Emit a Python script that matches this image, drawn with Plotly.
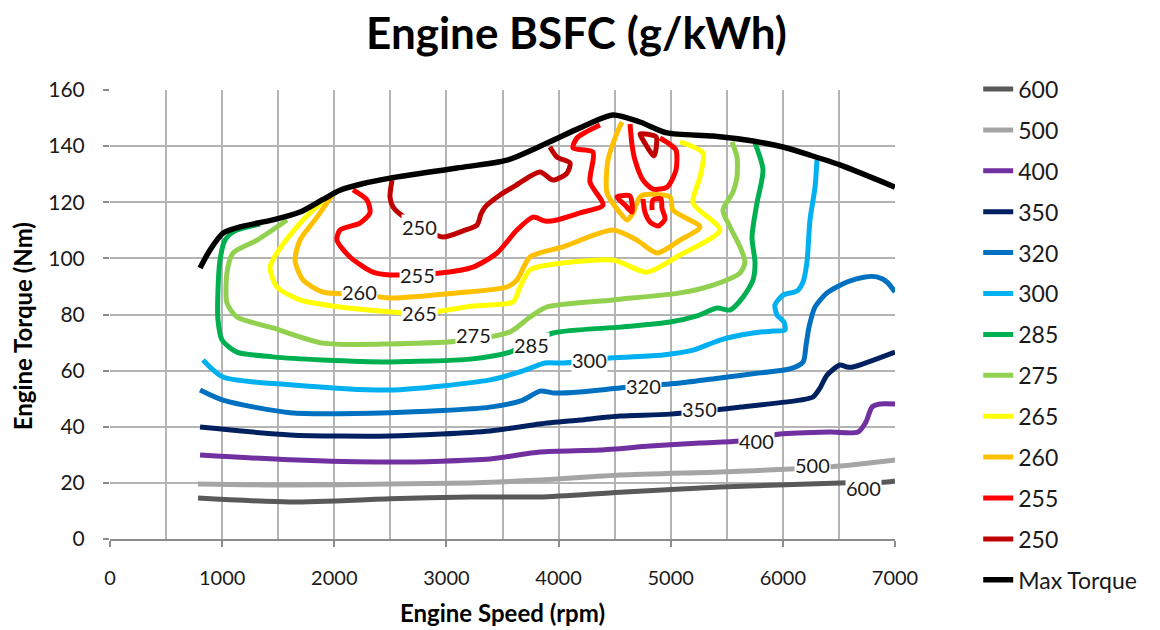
import plotly.graph_objects as go

# ---------------- data (rpm, Nm) ----------------
X_600 = [785, 1605, 2497, 3210, 3834, 4548, 5439, 6509, 6928, 7000]
Y_600 = [14.6, 13.2, 14.3, 15.0, 15.0, 16.7, 18.5, 20.0, 20.3, 20.7]

X_500 = [785, 1605, 2497, 3210, 3834, 4548, 5439, 6063, 6509, 7000]
Y_500 = [19.6, 19.2, 19.6, 20.0, 21.0, 22.8, 23.9, 24.9, 26.0, 28.2]

X_400 = [803, 1605, 2497, 3389, 3834, 4369, 4815, 5261, 5618, 5974, 6420, 6670, 6741, 6795, 6866, 7000]
Y_400 = [29.9, 28.2, 27.4, 28.5, 31.0, 31.7, 33.1, 34.2, 34.9, 37.4, 38.1, 38.1, 41.7, 47.0, 48.1, 48.1]

X_350 = [803, 1605, 2497, 3389, 3834, 4191, 4548, 4994, 5618, 6153, 6269, 6331, 6394, 6509, 6572, 6625, 7000]
Y_350 = [39.9, 37.1, 36.7, 38.5, 41.0, 42.4, 43.8, 44.5, 47.0, 49.5, 50.6, 53.8, 58.4, 62.0, 61.3, 61.3, 66.6]

X_320 = [803, 1008, 1605, 2497, 3389, 3683, 3834, 3968, 4191, 4548, 5083, 5439, 5796, 6063, 6180, 6207,
         6233, 6287, 6394, 6572, 6733, 6839, 6928, 7000]
Y_320 = [53.1, 49.5, 45.0, 45.0, 47.0, 49.5, 52.7, 52.0, 52.4, 53.8, 55.6, 57.4, 59.2, 60.6, 63.1, 69.1,
         75.5, 82.7, 87.7, 91.6, 93.4, 93.4, 91.6, 88.0]

X_300 = [829, 1008, 1605, 2497, 3389, 3683, 3879, 4039, 4459, 4931, 5199, 5439, 5734, 5912, 6019, 6010,
         5948, 5930, 6001, 6126, 6180, 6215, 6242, 6287, 6304]
Y_300 = [63.8, 57.7, 55.0, 53.1, 56.7, 59.9, 62.7, 62.7, 64.5, 65.6, 67.3, 70.9, 73.4, 74.1, 74.5, 77.3,
         79.8, 83.4, 86.9, 88.4, 91.6, 98.7, 113.7, 125.4, 135.1]

X_285 = [1338, 1115, 1025, 981, 963, 963, 999, 1132, 1453, 1899, 2497, 3210, 3567, 3950, 4548, 4994,
         5234, 5413, 5529, 5645, 5734, 5752, 5725, 5769, 5823, 5752]
Y_285 = [112.2, 109.8, 106.5, 99.4, 88.7, 78.0, 70.9, 66.6, 64.9, 63.8, 63.1, 64.1, 66.6, 73.4, 75.5, 77.3,
         79.5, 82.3, 81.6, 86.2, 92.3, 98.4, 107.6, 119.7, 131.5, 141.1]

X_275 = [1578, 1311, 1097, 1043, 1043, 1132, 1453, 1899, 2497, 3210, 3567, 3745, 3897, 4485, 5083, 5377,
         5618, 5662, 5618, 5529, 5466, 5555, 5591, 5591, 5546]
Y_275 = [113.7, 106.5, 101.9, 94.8, 84.1, 79.1, 75.2, 69.8, 69.5, 70.9, 73.8, 79.1, 82.7, 85.2, 87.7, 90.5,
         94.8, 98.7, 104.1, 111.2, 117.2, 123.6, 129.0, 136.1, 141.5]

X_265 = [1988, 1783, 1605, 1489, 1427, 1489, 1694, 2051, 2764, 3237, 3594, 3656, 3745, 3897, 4485, 4788,
         5083, 5439, 5199, 5261, 5288, 5083]
Y_265 = [122.9, 116.2, 108.3, 101.9, 96.9, 89.8, 85.2, 82.7, 80.5, 83.0, 84.5, 89.8, 95.9, 97.6, 99.4, 95.1,
         101.2, 110.1, 119.7, 129.0, 137.5, 141.5]

X_260 = [1988, 1846, 1694, 1650, 1721, 1899, 2229, 2497, 3094, 3540, 3629, 3745, 4039, 4485, 4699, 4878,
         5083, 5261, 5020, 4994, 4753, 4708, 4664, 4610, 4548, 4432, 4441, 4521, 4565]
Y_260 = [122.9, 114.7, 106.5, 99.4, 92.3, 88.0, 87.3, 85.9, 87.7, 89.8, 92.3, 100.5, 104.1, 110.1, 106.5, 101.9,
         106.5, 111.2, 117.2, 121.9, 122.6, 120.8, 116.2, 113.7, 116.2, 123.3, 135.1, 144.7, 148.6]

# 255 has several separate pieces (None breaks the line)
X_255 = [2167, 2292, 2318, 2229, 2051, 2024, 2140, 2345, 2497, 2943, 3237, 3451, 3629, 3772, 3879, 3986,
         4191, 4396, 4280, 4307, 4129, 4164, 4369, None,
         4637, 4655, 4681, 4753, 4842, 4967, 5047, 5047, 4976, 4904, None,
         4521, 4637, 4655, 4592, 4521, None,
         4753, 4770, 4815, 4887, 4949, 4922, 4913, 4842, 4833]
Y_255 = [124.4, 120.8, 116.2, 112.6, 110.1, 106.5, 100.5, 95.1, 94.1, 94.8, 96.9, 101.9, 110.1, 114.7, 113.3, 113.7,
         116.2, 119.0, 127.2, 137.9, 139.3, 142.9, 147.5, None,
         147.9, 140.4, 135.1, 127.9, 124.7, 125.4, 131.5, 138.6, 141.1, 142.9, None,
         121.9, 122.2, 116.5, 119.0, 121.9, None,
         121.2, 116.5, 113.0, 111.5, 114.0, 117.9, 121.2, 120.8, 117.2]

X_250 = [2515, 2497, 2524, 2586, 2764, 2969, 3148, 3273, 3308, 3344, 3478, 3594, 3834, 3950, 4075, 4102,
         3986, 3923, None,
         4726, 4869, 4851, 4753, 4726]
Y_250 = [127.9, 121.9, 118.3, 115.8, 111.2, 107.6, 109.8, 111.9, 115.8, 118.3, 122.6, 125.4, 130.8, 127.9, 130.4, 134.0,
         136.1, 139.7, None,
         144.3, 143.3, 136.5, 142.2, 144.3]

X_MAX = [803, 892, 1008, 1159, 1453, 1694, 1899, 2050, 2250, 2497, 3094, 3540, 3897, 4191, 4485, 4726, 4967,
         5377, 5734, 6001, 6242, 6509, 7000]
Y_MAX = [96.6, 103.0, 109.0, 111.2, 113.7, 116.5, 121.0, 124.3, 126.6, 128.6, 132.2, 135.0, 141.1, 146.5, 151.1,
         148.6, 144.7, 143.6, 141.8, 139.7, 136.8, 133.3, 125.4]

SERIES = ["600", "500", "400", "350", "320", "300", "285", "275", "265", "260", "255", "250", "Max Torque"]
SERIES_X = [X_600, X_500, X_400, X_350, X_320, X_300, X_285, X_275, X_265, X_260, X_255, X_250, X_MAX]
SERIES_Y = [Y_600, Y_500, Y_400, Y_350, Y_320, Y_300, Y_285, Y_275, Y_265, Y_260, Y_255, Y_250, Y_MAX]
COLORS = ["#595959", "#a5a5a5", "#7030a0", "#002060", "#0070c0", "#00b0f0", "#00b050", "#92d050",
          "#ffff00", "#ffc000", "#ff0000", "#c00000", "#000000"]

# inline contour labels
LABEL_TEXT = ["250", "255", "260", "265", "275", "285", "300", "320", "350", "400", "500", "600"]
LABEL_X = [2764, 2738, 2229, 2764, 3237, 3763, 4280, 4753, 5261, 5769, 6260, 6723]
LABEL_Y = [111.2, 94.1, 88.0, 80.5, 72.7, 69.1, 63.8, 54.5, 46.3, 34.9, 26.4, 18.2]

FONT = "Lato"

fig = go.Figure()
for name, xs, ys, col in zip(SERIES, SERIES_X, SERIES_Y, COLORS):
    fig.add_trace(go.Scatter(
        x=xs, y=ys, name=name, mode="lines", legendgroup=name,
        line=dict(color=col, width=5.5 if name == "Max Torque" else 5, shape="spline", smoothing=0.7),
        connectgaps=False, hoverinfo="skip"))

for t, x, y in zip(LABEL_TEXT, LABEL_X, LABEL_Y):
    fig.add_annotation(x=x, y=y, text=t, showarrow=False, bgcolor="white", borderpad=0,
                       font=dict(family=FONT, size=20, color="#1a1a1a"))

# y-axis title placed as a rotated annotation (slightly below plot centre as in the original)
fig.add_annotation(xref="paper", yref="paper", x=-0.112, y=0.474, text="<b>Engine Torque (Nm)</b>",
                   textangle=-90, showarrow=False, xanchor="center", yanchor="middle",
                   font=dict(family=FONT, size=24, color="black"))

grid = "#b4b4b4"
fig.update_layout(
    width=1160, height=630,
    margin=dict(l=110, r=265, t=90, b=91),
    paper_bgcolor="white", plot_bgcolor="white",
    font=dict(family=FONT, size=20, color="#1a1a1a"),
    title=dict(text="<b>Engine BSFC (g/kWh)</b>", x=0.497, xanchor="center", y=0.947, yanchor="middle",
               yref="container", font=dict(family=FONT, size=44, color="black")),
    showlegend=True,
    legend=dict(x=1.106, xanchor="left", y=1.05, yanchor="top", tracegroupgap=8, maxheight=620,
                font=dict(family=FONT, size=23, color="#1a1a1a"), bgcolor="rgba(0,0,0,0)"),
    xaxis=dict(range=[0, 7000], dtick=1000, tick0=0, showgrid=True, gridcolor=grid, gridwidth=1.5,
               minor=dict(dtick=500, showgrid=True, gridcolor=grid, gridwidth=1.5),
               showline=True, linecolor="#8c8c8c", linewidth=2, ticks="outside", ticklen=6,
               tickcolor="#8c8c8c", tickwidth=2, ticklabelstandoff=14, zeroline=False, automargin=False,
               tickfont=dict(family=FONT, size=20, color="#1a1a1a"),
               title=dict(text="<b>Engine Speed (rpm)</b>", standoff=17,
                          font=dict(family=FONT, size=24, color="black"))),
    yaxis=dict(range=[0, 160], dtick=20, tick0=0, showgrid=True, gridcolor=grid, gridwidth=1.5,
               showline=False, zeroline=False, ticks="outside", ticklen=6, tickcolor="#8c8c8c", tickwidth=2,
               ticklabelstandoff=14, automargin=False,
               tickfont=dict(family=FONT, size=21, color="#1a1a1a")),
)

fig.write_html("out.html", config={"displayModeBar": False},
               post_script="document.body.style.margin='0';document.body.style.overflow='hidden';")
